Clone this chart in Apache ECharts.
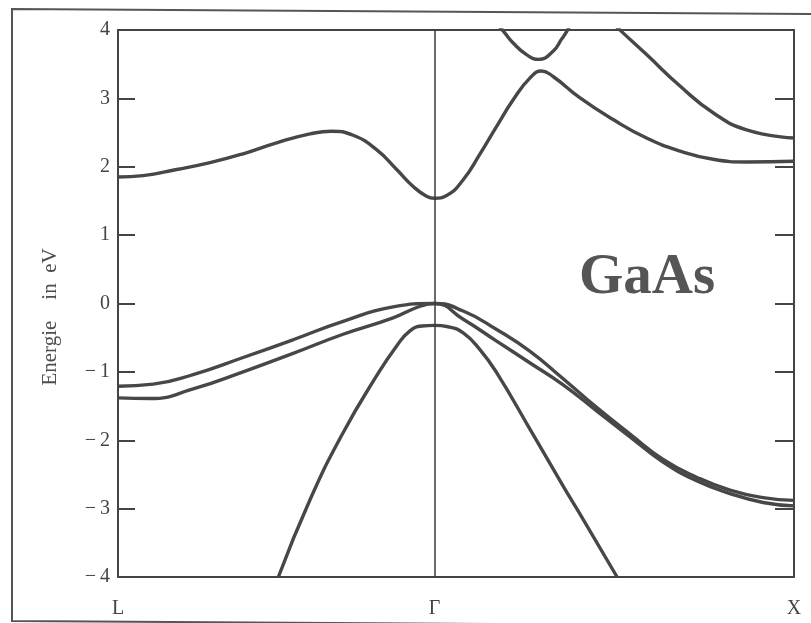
<!DOCTYPE html>
<html>
<head>
<meta charset="utf-8">
<title>GaAs band structure</title>
<script src="https://cdn.jsdelivr.net/npm/echarts@6/dist/echarts.min.js"></script>
<style>
  html, body { margin: 0; padding: 0; background: #ffffff; }
  #chart { width: 811px; height: 623px; }
</style>
</head>
<body>
<div id="chart"></div>
<script>
// High-symmetry points along the k path (path length, L at 0)
const kLabels = ['L', 'Γ', 'X'];
const kPositions = [0, 0.88, 1.88];

// Energy axis (eV)
const energyMin = -4;
const energyMax = 4;
const energyStep = 1;

// Bands as [k, E] pairs
const conduction1 = [[0,1.85],[0.070,1.87],[0.163,1.96],[0.256,2.06],[0.348,2.19],[0.441,2.35],[0.534,2.48],[0.594,2.52],[0.654,2.46],[0.719,2.25],[0.775,1.96],[0.821,1.71],[0.858,1.57],[0.88,1.54],[0.914,1.58],[0.960,1.81],[1.006,2.18],[1.053,2.59],[1.099,2.98],[1.146,3.30],[1.178,3.40],[1.210,3.32],[1.284,3.01],[1.377,2.69],[1.470,2.42],[1.563,2.23],[1.655,2.11],[1.748,2.07],[1.88,2.08]];
const conduction2 = [[1.034,4.2],[1.072,3.98],[1.099,3.81],[1.136,3.64],[1.170,3.57],[1.210,3.69],[1.234,3.87],[1.248,3.98],[1.27,4.2]];
const conduction3 = [[1.340,4.28],[1.400,3.98],[1.470,3.64],[1.563,3.18],[1.655,2.79],[1.748,2.54],[1.88,2.42]];
const heavyHole = [[0,-1.21],[0.098,-1.18],[0.209,-1.04],[0.348,-0.79],[0.487,-0.53],[0.626,-0.26],[0.765,-0.05],[0.88,0],[0.960,-0.11],[1.053,-0.38],[1.146,-0.70],[1.238,-1.10],[1.331,-1.52],[1.424,-1.91],[1.516,-2.28],[1.609,-2.54],[1.702,-2.73],[1.794,-2.84],[1.88,-2.88]];
const lightHole = [[0,-1.38],[0.089,-1.39],[0.209,-1.25],[0.348,-1.00],[0.487,-0.73],[0.626,-0.45],[0.765,-0.21],[0.840,-0.04],[0.88,0],[0.960,-0.23],[1.053,-0.55],[1.146,-0.87],[1.238,-1.19],[1.331,-1.57],[1.424,-1.95],[1.516,-2.32],[1.609,-2.59],[1.702,-2.78],[1.794,-2.91],[1.88,-2.96]];
const splitOff = [[0.446,-4.0],[0.534,-2.87],[0.626,-1.89],[0.719,-1.06],[0.775,-0.62],[0.812,-0.40],[0.845,-0.33],[0.88,-0.32],[0.918,-0.34],[0.960,-0.43],[1.006,-0.67],[1.053,-1.01],[1.146,-1.84],[1.238,-2.67],[1.294,-3.16],[1.388,-4.0]];

const bands = [conduction1, conduction2, conduction3, heavyHole, lightHole, splitOff];

const ink = '#474747';
const serif = '"Liberation Serif", "DejaVu Serif", "Times New Roman", serif';

const chart = echarts.init(document.getElementById('chart'), null, { renderer: 'canvas' });

const series = bands.map((band, i) => ({
  type: 'line',
  data: band,
  showSymbol: false,
  smooth: 0.5,
  clip: true,
  silent: true,
  lineStyle: { color: ink, width: 3.4 },
  markLine: i === 0 ? {
    silent: true,
    symbol: 'none',
    label: { show: false },
    lineStyle: { color: '#3a3a3a', width: 1.5, type: 'solid' },
    data: [{ xAxis: kPositions[1] }]
  } : undefined
}));

const axisLineStyle = { color: '#444', width: 2 };

chart.setOption({
  animation: false,
  backgroundColor: '#ffffff',
  grid: { left: 118, top: 30, right: 17, bottom: 46 },
  xAxis: [
    {
      type: 'value',
      min: kPositions[0],
      max: kPositions[kPositions.length - 1],
      position: 'bottom',
      axisLine: { show: true, onZero: false, lineStyle: axisLineStyle },
      axisTick: { show: false },
      splitLine: { show: false },
      axisLabel: {
        customValues: kPositions,
        margin: 22,
        fontFamily: serif,
        fontSize: 20,
        color: '#444',
        formatter: function (v) {
          let best = 0;
          kPositions.forEach((p, j) => { if (Math.abs(p - v) < Math.abs(kPositions[best] - v)) best = j; });
          return kLabels[best];
        }
      }
    },
    {
      type: 'value',
      min: kPositions[0],
      max: kPositions[kPositions.length - 1],
      position: 'top',
      axisLine: { show: true, onZero: false, lineStyle: axisLineStyle },
      axisTick: { show: false },
      axisLabel: { show: false },
      splitLine: { show: false }
    }
  ],
  yAxis: [
    {
      type: 'value',
      min: energyMin,
      max: energyMax,
      interval: energyStep,
      position: 'left',
      axisLine: { show: true, onZero: false, lineStyle: axisLineStyle },
      axisTick: { show: true, inside: true, length: 17, lineStyle: axisLineStyle },
      splitLine: { show: false },
      axisLabel: {
        margin: 8,
        fontFamily: serif,
        fontSize: 20,
        color: '#444',
        formatter: function (v) { return v < 0 ? '\u2212\u2009' + Math.abs(v) : String(v); }
      }
    },
    {
      type: 'value',
      min: energyMin,
      max: energyMax,
      interval: energyStep,
      position: 'right',
      axisLine: { show: true, onZero: false, lineStyle: axisLineStyle },
      axisTick: { show: true, inside: true, length: 19, lineStyle: axisLineStyle },
      axisLabel: { show: false },
      splitLine: { show: false }
    }
  ],
  series: series,
  graphic: [
    {
      type: 'text',
      x: 50,
      y: 317,
      rotation: Math.PI / 2,
      style: {
        text: 'Energie    in  eV',
        fontFamily: serif,
        fontSize: 21,
        fill: '#4d4d4d',
        align: 'center',
        verticalAlign: 'middle'
      }
    },
    {
      type: 'text',
      x: 647,
      y: 278,
      style: {
        text: 'GaAs',
        fontFamily: serif,
        fontWeight: 'bold',
        fontSize: 57,
        fill: '#555',
        align: 'center',
        verticalAlign: 'middle'
      }
    },
    {
      type: 'polyline',
      shape: { points: [[811, 14], [12, 9], [12, 621], [811, 626]] },
      style: { stroke: '#555', lineWidth: 2, fill: null }
    }
  ]
});
</script>
</body>
</html>
